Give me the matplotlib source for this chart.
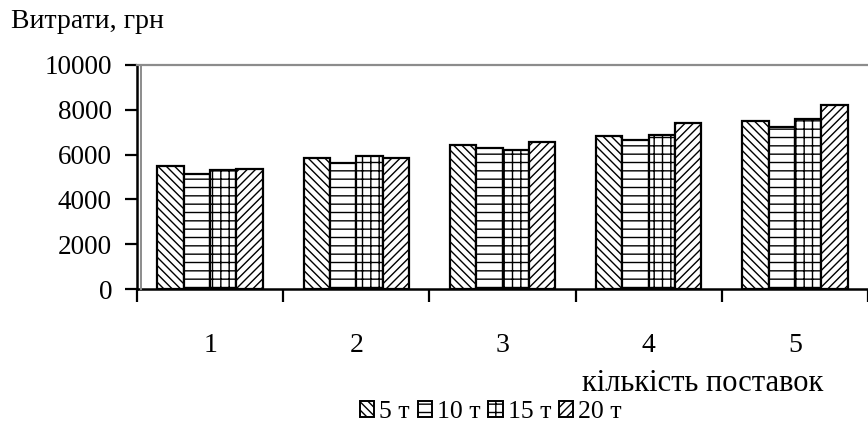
import matplotlib
matplotlib.use("Agg")
import matplotlib.pyplot as plt
import numpy as np
from matplotlib.patches import Patch
from matplotlib.lines import Line2D

plt.rcParams['font.family'] = ['Liberation Serif', 'DejaVu Serif']
plt.rcParams['hatch.linewidth'] = 1.0

categories = ["1", "2", "3", "4", "5"]
series_labels = ["5 т", "10 т", "15 т", "20 т"]
costs_5t = [5490, 5850, 6440, 6830, 7490]
costs_10t = [5130, 5640, 6290, 6650, 7250]
costs_15t = [5310, 5940, 6210, 6890, 7580]
costs_20t = [5370, 5850, 6560, 7400, 8230]
y_ticks = [0, 2000, 4000, 6000, 8000, 10000]

series = [costs_5t, costs_10t, costs_15t, costs_20t]
hatches = ['\\\\\\\\', '--', '++', '////']

fig = plt.figure(figsize=(8.68, 4.36), dpi=100)
ax_left, ax_bottom = 137 / 868, (436 - 289) / 436
ax_top = (436 - 65) / 436
ax = fig.add_axes([ax_left, ax_bottom, 1 - ax_left, ax_top - ax_bottom])

x = np.arange(len(categories))
bar_w = 0.18
offsets = (np.arange(4) - 1.5) * bar_w
for vals, off, h in zip(series, offsets, hatches):
    ax.bar(x + off, vals, width=bar_w, facecolor='white', edgecolor='black',
           linewidth=1.6, hatch=h, zorder=3)

ax.set_xlim(-0.5, len(categories) - 0.5)
ax.set_ylim(0, 10000)
ax.set_yticks(y_ticks)
ax.set_yticklabels([str(v) for v in y_ticks], fontsize=19.5)
ax.tick_params(axis='y', direction='out', length=9, width=1.6, pad=9)

ax.set_xticks(x)
ax.set_xticklabels(categories, fontsize=20)
ax.set_xticks(np.arange(len(categories) + 1) - 0.5, minor=True)
ax.tick_params(axis='x', which='major', length=0, pad=32)
ax.tick_params(axis='x', which='minor', direction='out', length=9, width=1.6)

for side in ['left', 'bottom']:
    ax.spines[side].set_linewidth(1.8)
    ax.spines[side].set_color('black')
ax.spines['top'].set_color('#8c8c8c')
ax.spines['top'].set_linewidth(1.6)
ax.spines['right'].set_visible(False)

# light frame edge running alongside the value axis
fig.add_artist(Line2D([140.5 / 868, 140.5 / 868], [ax_bottom, ax_top],
                      color='#8c8c8c', linewidth=1.4, transform=fig.transFigure))

fig.text(11 / 868, 1 - 22 / 436, "Витрати, грн", fontsize=20, va='center', ha='left')
fig.text(823 / 868, 1 - 383 / 436, "кількість поставок", fontsize=22, va='center', ha='right')

handles = [Patch(facecolor='white', edgecolor='black', hatch=h, linewidth=1.4) for h in hatches]
fig.legend(handles, series_labels, loc='center', bbox_to_anchor=(491 / 868, 1 - 412 / 436),
           ncol=4, frameon=False, fontsize=18.5, handlelength=0.55, handleheight=0.55,
           handletextpad=0.2, columnspacing=0.3, borderpad=0)

fig.savefig("out.png", dpi=100)
